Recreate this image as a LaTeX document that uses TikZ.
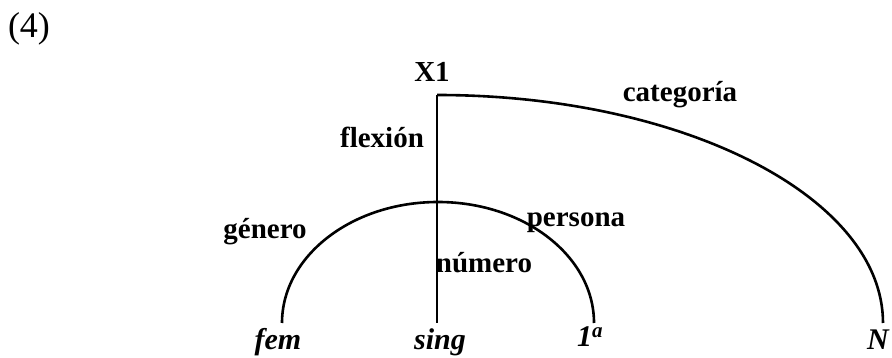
\documentclass[tikz,border=0pt]{standalone}
\usepackage{fontspec}
\setmainfont{Liberation Serif}
\begin{document}
\begin{tikzpicture}[x=1pt,y=1pt,
  edge/.style={line width=2.6pt},
  lab/.style={inner sep=0pt,anchor=base,font=\fontsize{29}{34}\selectfont\bfseries},
  leaf/.style={inner sep=0pt,anchor=base,font=\fontsize{30}{34}\selectfont\bfseries\itshape}]
\useasboundingbox (0,0) rectangle (892,358);
\node[inner sep=0pt,anchor=base,font=\fontsize{36}{40}\selectfont] (num) at (29,320) {(4)};
\node[lab] (x1) at (432,276) {X1};
\coordinate (root) at (437,263);
\coordinate (mid) at (437,156);
\coordinate (fe) at (282,35);
\coordinate (pe) at (594,35);
\coordinate (ne) at (883,35);
\coordinate (se) at (437,35);
\node[leaf] (fem) at (278,8) {fem};
\node[leaf] (sing) at (440,8) {sing};
\node[leaf] (pri) at (590,11) {1\textsuperscript{a}};
\node[leaf] (nn) at (878,8) {N};
\node[lab] (cat) at (680,256) {categoría};
\node[lab] (flex) at (382,210) {flexión};
\node[lab] (gen) at (265,119) {género};
\node[lab] (pers) at (576,131) {persona};
\node[lab] (numr) at (484,85) {número};
\draw[edge] (root) arc[start angle=90,end angle=0,x radius=446,y radius=228];
\draw[edge] (root) -- (se);
\draw[edge] (fe) arc[start angle=180,end angle=0,x radius=156,y radius=121];
\end{tikzpicture}
\end{document}
